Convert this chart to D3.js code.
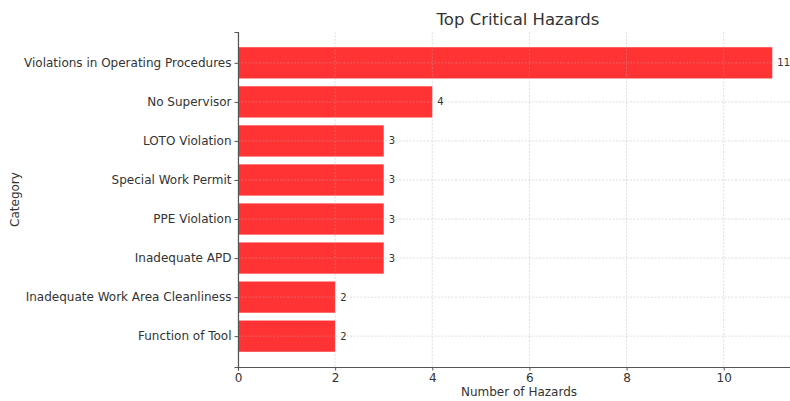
<!DOCTYPE html>
<html>
<head>
<meta charset="utf-8">
<script src="https://cdn.jsdelivr.net/npm/d3@7"></script>
<style>
  body { margin: 0; background: #fff; }
  svg text { font-family: "DejaVu Sans", sans-serif; fill: #333; }
</style>
</head>
<body>
<div id="chart"></div>
<script>
var categories = [
  "Violations in Operating Procedures",
  "No Supervisor",
  "LOTO Violation",
  "Special Work Permit",
  "PPE Violation",
  "Inadequate APD",
  "Inadequate Work Area Cleanliness",
  "Function of Tool"
];
var counts = [11, 4, 3, 3, 3, 3, 2, 2];
var xTicks = [0, 2, 4, 6, 8, 10];

function buildChart(id) {
  var width = 790;
  var height = 401;

  var margin = { top: 32, right: -9, bottom: 34, left: 238 };
  var innerWidth = width - margin.left - margin.right;
  var innerHeight = height - margin.top - margin.bottom;

  var svg = d3.select(id).append("svg").attr("width", width).attr("height", height);
  var g = svg.append("g").attr("transform", "translate(" + margin.left + "," + margin.top + ")");

  // matplotlib-like limits: 5% margin on x max, bars of height 0.8 with 5% pad
  var x = d3.scaleLinear().domain([0, 11.55]).range([0, innerWidth]);
  var y = d3.scaleLinear().domain([-0.79, categories.length - 1 + 0.79]).range([0, innerHeight]);

  var data = categories.map(function (c, i) {
    return { category: c, count: counts[i], idx: i };
  });

  // bars
  g.selectAll(".bar")
    .data(data)
    .enter()
    .append("rect")
    .attr("class", "bar")
    .attr("x", x(0))
    .attr("y", function (d) { return y(d.idx - 0.4); })
    .attr("width", function (d) { return x(d.count) - x(0); })
    .attr("height", y(0.4) - y(-0.4))
    .attr("fill", "#ff3333");

  // grid (drawn above bars)
  g.selectAll(".vgrid")
    .data(xTicks)
    .enter()
    .append("line")
    .attr("class", "vgrid")
    .attr("x1", function (d) { return x(d); })
    .attr("x2", function (d) { return x(d); })
    .attr("y1", 0)
    .attr("y2", innerHeight)
    .attr("stroke", "#b0b0b0")
    .attr("stroke-opacity", 0.5)
    .attr("stroke-width", 0.8)
    .attr("stroke-dasharray", "2,1.5");

  g.selectAll(".hgrid")
    .data(data)
    .enter()
    .append("line")
    .attr("class", "hgrid")
    .attr("x1", 0)
    .attr("x2", innerWidth)
    .attr("y1", function (d) { return y(d.idx); })
    .attr("y2", function (d) { return y(d.idx); })
    .attr("stroke", "#b0b0b0")
    .attr("stroke-opacity", 0.5)
    .attr("stroke-width", 0.8)
    .attr("stroke-dasharray", "2,1.5");

  // axes
  var xAxis = d3.axisBottom(x).tickValues(xTicks).tickSize(3.5).tickPadding(3).tickFormat(d3.format("d"));
  var xg = g.append("g")
    .attr("transform", "translate(0," + innerHeight + ")")
    .call(xAxis);
  xg.select(".domain").attr("stroke", "#555").attr("stroke-width", 1.2);
  xg.selectAll(".tick line").attr("stroke", "#555");
  xg.selectAll(".tick text").style("font-size", "12px").style("fill", "#333");

  var yAxis = d3.axisLeft(y).tickValues(d3.range(categories.length)).tickSize(3.5).tickPadding(3)
    .tickFormat(function (i) { return categories[i]; });
  var yg = g.append("g").call(yAxis);
  yg.select(".domain").attr("stroke", "#555").attr("stroke-width", 1.2);
  yg.selectAll(".tick line").attr("stroke", "#555");
  yg.selectAll(".tick text").style("font-size", "12px").style("fill", "#333");

  // value labels
  g.selectAll(".val")
    .data(data)
    .enter()
    .append("text")
    .attr("class", "val")
    .attr("x", function (d) { return x(d.count) + 5; })
    .attr("y", function (d) { return y(d.idx); })
    .attr("dominant-baseline", "central")
    .style("font-size", "10px")
    .text(function (d) { return d.count; });

  // labels and title
  svg.append("text")
    .attr("x", 519)
    .attr("y", 396)
    .attr("text-anchor", "middle")
    .style("font-size", "12px")
    .text("Number of Hazards");

  svg.append("text")
    .attr("transform", "translate(19," + (margin.top + innerHeight / 2) + ") rotate(-90)")
    .attr("text-anchor", "middle")
    .style("font-size", "12px")
    .text("Category");

  svg.append("text")
    .attr("x", 518)
    .attr("y", 25)
    .attr("text-anchor", "middle")
    .style("font-size", "16.5px")
    .text("Top Critical Hazards");
}

buildChart("#chart");
</script>
</body>
</html>
